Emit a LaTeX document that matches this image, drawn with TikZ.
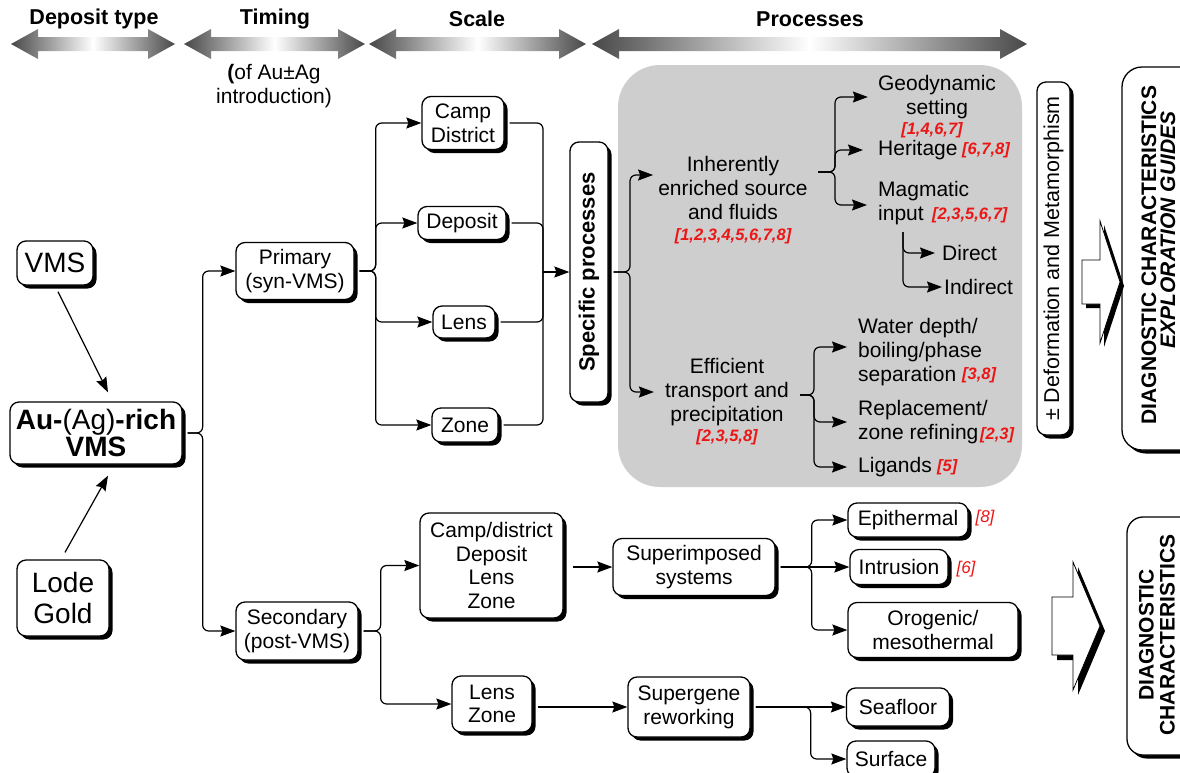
\documentclass[tikz,border=0pt]{standalone}
\usepackage{fontspec}
\setmainfont{Liberation Sans}
\usetikzlibrary{arrows.meta,shadows,calc}
\definecolor{hdgray}{RGB}{72,72,72}
\definecolor{panel}{RGB}{206,206,206}
\definecolor{refred}{RGB}{236,22,22}
\newcommand\hdrarrow[2]{%
  \shade[left color=hdgray,right color=hdgray,middle color=white]
  (#1,44) -- (#1+27,29) -- (#1+27,37) -- (#2-27,37) -- (#2-27,29) -- (#2,44)
  -- (#2-27,59) -- (#2-27,51) -- (#1+27,51) -- (#1+27,59) -- cycle;}
\tikzset{
  bx/.style={draw, line width=1.3pt, rounded corners=9pt, fill=white, align=center,
    inner sep=0pt, drop shadow={shadow xshift=3.5pt, shadow yshift=-3.5pt, fill=black, opacity=1},
    font=\fontsize{21}{23.7}\selectfont},
  lbl/.style={align=center, inner sep=1pt, font=\fontsize{21}{23.7}\selectfont},
  lbll/.style={align=left, anchor=west, inner sep=1pt, font=\fontsize{21}{23.7}\selectfont},
  rf/.style={text=refred, inner sep=0pt, font=\fontsize{16.5}{18}\selectfont\bfseries\itshape},
  rfn/.style={text=refred, inner sep=0pt, font=\fontsize{17}{18}\selectfont\itshape},
  hdr/.style={inner sep=0pt, font=\fontsize{21.5}{24}\selectfont\bfseries},
  con/.style={line width=1.2pt, rounded corners=6pt, shorten <=5pt},
  arr/.style={con, -{Stealth[length=15pt,width=11pt,inset=2pt]}},
  vtxt/.style={rotate=90, inner sep=0pt, align=center},
}
\begin{document}
\begin{tikzpicture}[x=1pt,y=-1pt]
\useasboundingbox (0,0) rectangle (1180,772);
\clip (0,0) rectangle (1180,772);

% headers
\node[hdr] (hdep) at (94,19) {Deposit type};
\node[hdr] (htim) at (275,19) {Timing};
\node[hdr] (hsca) at (477,19) {Scale};
\node[hdr] (hpro) at (810,19) {Processes};
\hdrarrow{11}{175}
\hdrarrow{184}{365}
\hdrarrow{369}{586}
\hdrarrow{592}{1027}
\node[lbl] (htsub) at (274,86) {\textbf{(}of Au±Ag\\introduction)};

% grey panel
\fill[panel, rounded corners=42pt] (618,65) rectangle (1022,487);

% left column
\node[bx, minimum width=76pt, minimum height=44pt, font=\fontsize{28}{30}\selectfont] (vms) at (55,263) {VMS};
\node[bx, minimum width=172pt, minimum height=62pt, font=\fontsize{28}{25}\selectfont] (au) at (96,433) {\textbf{Au-}(Ag)\textbf{-rich}\\\textbf{VMS}};
\node[bx, minimum width=92pt, minimum height=76pt, font=\fontsize{28}{31}\selectfont] (lode) at (63,598) {Lode\\Gold};

% timing
\node[bx, minimum width=118pt, minimum height=57pt] (pri) at (295,271) {Primary\\(syn-VMS)};
\node[bx, minimum width=122pt, minimum height=58pt] (sec) at (297,631) {Secondary\\(post-VMS)};

% scale (primary)
\node[bx, minimum width=82pt, minimum height=53pt] (camp) at (463,123) {Camp\\District};
\node[bx, minimum width=88pt, minimum height=33pt] (dep) at (462,223) {Deposit};
\node[bx, minimum width=62pt, minimum height=32pt] (lens) at (464,322) {Lens};
\node[bx, minimum width=66pt, minimum height=34pt] (zone) at (465,425) {Zone};
\node[bx, minimum width=38pt, minimum height=260pt] (spec) at (589,272) {};
\node[vtxt, font=\fontsize{22}{24}\selectfont\bfseries] (spect) at (spec.center) {Specific processes};

% processes panel
\node[lbl] (inh) at (733,188) {Inherently\\enriched source\\and fluids};
\node[rf] (inhr) at (733,236) {[1,2,3,4,5,6,7,8]};
\node[lbl] (geo) at (937,97) {Geodynamic\\setting};
\node[rf] (geor) at (932,130) {[1,4,6,7]};
\node[lbll] (her) at (877,150) {Heritage};
\node[rf, anchor=west] (herr) at (962,150) {[6,7,8]};
\node[lbll] (mag) at (877,203) {Magmatic\\input};
\node[rf, anchor=west] (magr) at (932,215) {[2,3,5,6,7]};
\node[lbll] (dir) at (941,253) {Direct};
\node[lbll] (ind) at (943,287) {Indirect};
\node[lbl] (eff) at (727,392) {Efficient\\transport and\\precipitation};
\node[rf] (effr) at (727,437) {[2,3,5,8]};
\node[lbll] (wat) at (857,352) {Water depth/\\boiling/phase\\separation};
\node[rf, anchor=west] (watr) at (962,375) {[3,8]};
\node[lbll] (rep) at (857,422) {Replacement/\\zone refining};
\node[rf, anchor=west] (repr) at (980,435) {[2,3]};
\node[lbll] (lig) at (857,467) {Ligands};
\node[rf, anchor=west] (ligr) at (937,467) {[5]};

% deformation
\node[bx, minimum width=33pt, minimum height=353pt] (def) at (1053.5,258.5) {};
\node[vtxt, font=\fontsize{21.5}{24}\selectfont] (deft) at (def.center) {± Deformation and Metamorphism};

% diagnostic boxes
\node[bx, rounded corners=20pt, minimum width=80pt, minimum height=383pt] (diag1) at (1162,258.5) {};
\node[vtxt, font=\fontsize{21}{22}\selectfont\bfseries] (diag1a) at (1149,255) {DIAGNOSTIC CHARACTERISTICS};
\node[vtxt, font=\fontsize{21}{22}\selectfont\bfseries\itshape] (diag1b) at (1168,230) {EXPLORATION GUIDES};
\node[bx, rounded corners=16pt, minimum width=76pt, minimum height=238pt] (diag2) at (1165,636) {};
\node[vtxt, font=\fontsize{21}{21}\selectfont\bfseries] (diag2t) at (1157,635) {DIAGNOSTIC\\CHARACTERISTICS};

% hollow arrows (black shadow, then white outline shape)
\fill[black, shift={(4,4)}] (1082,260) -- (1100,260) -- (1100,221) -- (1120,282) -- (1100,343) -- (1100,304) -- (1082,304) -- cycle;
\draw[fill=white, line width=0.8pt] (1082,260) -- (1100,260) -- (1100,221) -- (1120,282) -- (1100,343) -- (1100,304) -- (1082,304) -- cycle;
\fill[black, shift={(5,5)}] (1052,597) -- (1073,597) -- (1073,562) -- (1100,626) -- (1073,690) -- (1073,655) -- (1052,655) -- cycle;
\draw[fill=white, line width=0.8pt] (1052,597) -- (1073,597) -- (1073,562) -- (1100,626) -- (1073,690) -- (1073,655) -- (1052,655) -- cycle;

% secondary branch
\node[bx, minimum width=143pt, minimum height=105pt] (cdlz) at (491.5,565.5) {Camp/district\\Deposit\\Lens\\Zone};
\node[bx, minimum width=80pt, minimum height=56pt] (lz) at (492,704) {Lens\\Zone};
\node[bx, minimum width=162pt, minimum height=57pt] (sup) at (694,567) {Superimposed\\systems};
\node[bx, minimum width=122pt, minimum height=60pt] (sg) at (689,707) {Supergene\\reworking};
\node[bx, minimum width=120pt, minimum height=34pt] (epi) at (908,520) {Epithermal};
\node[bx, minimum width=98pt, minimum height=35pt] (intr) at (899,567) {Intrusion};
\node[bx, minimum width=170pt, minimum height=55pt] (oro) at (933,630) {Orogenic/\\mesothermal};
\node[bx, minimum width=103pt, minimum height=38pt] (sea) at (898,707) {Seafloor};
\node[bx, minimum width=88pt, minimum height=36pt] (surf) at (891,759) {Surface};
\node[rfn] (epir) at (985,518) {[8]};
\node[rfn] (intrr) at (966,569) {[6]};

% connectors
\draw[arr, shorten <=0pt] ([xshift=3pt,yshift=-6pt]vms.south) -- ([xshift=12pt,yshift=9pt]au.north);
\draw[arr, shorten <=0pt] ([xshift=2pt,yshift=7pt]lode.north) -- ([xshift=12pt,yshift=-11pt]au.south);

\draw[arr] (au.east) -- ([xshift=20pt]au.east) |- (pri.west);
\draw[arr] (au.east) -- ([xshift=20pt]au.east) |- (sec.west);

\foreach \nn in {camp,dep,lens,zone}{
  \draw[arr] (pri.east) -- ([xshift=21pt]pri.east) |- (\nn.west);
}
\coordinate (mrg) at (543,272);
\foreach \nn in {camp,dep,lens,zone}{
  \draw[con] (\nn.east) -| (mrg);
}
\draw[arr, shorten <=0pt] (mrg) -- (spec.west);

\coordinate (spj) at (630,272);
\draw[arr, shorten >=4pt] (spec.east) -- (spj) |- ([yshift=13pt]inh.west);
\draw[arr, shorten >=10pt] (spec.east) -- (spj) |- (eff.west);

\coordinate (inhR) at (818,172);
\coordinate (inhS) at (835,172);
\draw[arr, shorten <=0pt, shorten >=9pt] (inhR) -- (inhS) |- (geo.west);
\draw[arr, shorten <=0pt, shorten >=14pt] (inhR) -- (inhS) |- (her.west);
\draw[arr, shorten <=0pt, shorten >=10pt] (inhR) -- (inhS) |- ([yshift=-2pt]mag.west);

\coordinate (mv) at (903,232);
\draw[arr, shorten <=0pt, shorten >=6pt] (mv) |- (dir.west);
\draw[arr, shorten <=0pt, shorten >=1pt] (mv) |- (ind.west);

\coordinate (effR) at (800,395);
\coordinate (effS) at (814,395);
\draw[arr, shorten <=0pt, shorten >=10pt] (effR) -- (effS) |- ([yshift=5pt]wat.west);
\draw[arr, shorten <=0pt, shorten >=10pt] (effR) -- (effS) |- (rep.west);
\draw[arr, shorten <=0pt, shorten >=10pt] (effR) -- (effS) |- (lig.west);

\draw[arr] (sec.east) -- ([xshift=22pt]sec.east) |- (cdlz.west);
\draw[arr] (sec.east) -- ([xshift=22pt]sec.east) |- (lz.west);
\draw[arr, shorten <=9pt] (cdlz.east |- sup.west) -- (sup.west);
\draw[arr] (lz.east |- sg.west) -- (sg.west);
\draw[arr] (sup.east) -- ([xshift=36pt]sup.east) |- (epi.west);
\draw[arr] (sup.east) -- (intr.west);
\draw[arr] (sup.east) -- ([xshift=36pt]sup.east) |- (oro.west);
\draw[arr] (sg.east) -- (sea.west);
\draw[arr] (sg.east) -- ([xshift=60pt]sg.east) |- (surf.west);
\end{tikzpicture}
\end{document}
